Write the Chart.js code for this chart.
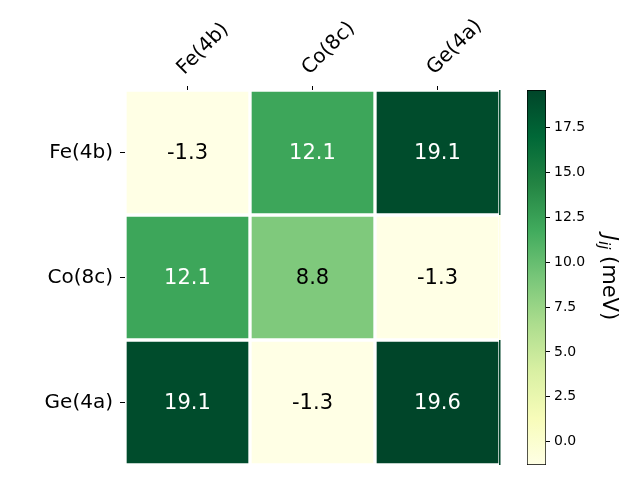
<!DOCTYPE html>
<html>
<head>
<meta charset="utf-8">
<script src="https://cdn.jsdelivr.net/npm/chart.js@4"></script>
<style>
  body { margin: 0; background: #fff; }
  canvas { position: absolute; left: 0; top: 0; }
</style>
</head>
<body>
<canvas id="heat" width="640" height="480"></canvas>
<canvas id="cbar" width="640" height="480"></canvas>
<script>
const rowLabels = ['Fe(4b)', 'Co(8c)', 'Ge(4a)'];
const colLabels = ['Fe(4b)', 'Co(8c)', 'Ge(4a)'];
const jValues = [
  [-1.3, 12.1, 19.1],
  [12.1, 8.8, -1.3],
  [19.1, -1.3, 19.6]
];
const cbarTicks = [0, 2.5, 5, 7.5, 10, 12.5, 15, 17.5];
const vmin = -1.3;
const vmax = 19.6;
// YlGn
const ylgn = ['#ffffe5', '#f7fcb9', '#d9f0a3', '#addd8e', '#78c679', '#41ab5d', '#238443', '#006837', '#004529'];

const FONT = "'DejaVu Sans', sans-serif";

function hex2rgb(h) {
  return [parseInt(h.slice(1, 3), 16), parseInt(h.slice(3, 5), 16), parseInt(h.slice(5, 7), 16)];
}
function cmap(v) {
  let t = (v - vmin) / (vmax - vmin);
  t = Math.max(0, Math.min(1, t));
  const p = t * (ylgn.length - 1);
  const i = Math.min(Math.floor(p), ylgn.length - 2);
  const f = p - i;
  const a = hex2rgb(ylgn[i]), b = hex2rgb(ylgn[i + 1]);
  const c = a.map((x, k) => Math.round(x + (b[k] - x) * f));
  return 'rgb(' + c.join(',') + ')';
}

// draws the numbers inside the cells + the thin edge line on the right
const cellText = {
  id: 'cellText',
  afterDatasetsDraw(chart) {
    const ctx = chart.ctx;
    const area = chart.chartArea;
    ctx.save();
    ctx.font = '21px ' + FONT;
    ctx.textAlign = 'center';
    ctx.textBaseline = 'middle';
    chart.data.datasets.forEach((ds, i) => {
      const bars = chart.getDatasetMeta(i).data;
      bars.forEach((bar, j) => {
        const v = ds.values[j];
        const t = (v - vmin) / (vmax - vmin);
        ctx.fillStyle = t > 0.6 ? '#fff' : '#000';
        ctx.fillText(v.toFixed(1), bar.x, (bar.y + bar.base) / 2 + 1);
      });
      const last = bars[bars.length - 1];
      ctx.fillStyle = ds.backgroundColor[bars.length - 1];
      ctx.fillRect(area.right - 1, Math.min(last.y, last.base), 1.5, Math.abs(last.base - last.y));
    });
    ctx.restore();
  }
};

new Chart(document.getElementById('heat'), {
  type: 'bar',
  data: {
    labels: colLabels,
    datasets: rowLabels.map((r, i) => ({
      label: r,
      data: colLabels.map(() => 1),
      values: jValues[i],
      backgroundColor: jValues[i].map(cmap),
      borderColor: '#fff',
      borderWidth: 2,
      borderSkipped: false,
      barPercentage: 1,
      categoryPercentage: 1
    }))
  },
  options: {
    responsive: false,
    animation: false,
    layout: { padding: { left: 0, top: 0, right: 140, bottom: 15 } },
    plugins: { legend: { display: false }, tooltip: { enabled: false } },
    scales: {
      x: {
        position: 'top',
        stacked: true,
        border: { display: false },
        grid: { offset: false, drawOnChartArea: false, tickLength: 4, color: '#000' },
        ticks: { minRotation: 45, maxRotation: 45, padding: 6, labelOffset: 10, color: '#000', font: { family: FONT, size: 20 } },
        afterFit(s) { s.height = 90; s.paddingLeft = 0; s.paddingRight = 0; }
      },
      y: {
        type: 'linear',
        stacked: true,
        min: 0,
        max: 3,
        reverse: true,
        border: { display: false },
        grid: { drawOnChartArea: false, tickLength: 5, color: '#000' },
        afterBuildTicks(s) { s.ticks = rowLabels.map((r, i) => ({ value: i + 0.5 })); },
        ticks: { padding: 7, color: '#000', font: { family: FONT, size: 20 }, callback: (v, i) => rowLabels[i] },
        afterFit(s) { s.width = 125; s.paddingTop = 0; s.paddingBottom = 0; }
      }
    }
  },
  plugins: [cellText]
});

// colorbar title J_ij (meV), rotated
const cbarTitle = {
  id: 'cbarTitle',
  afterDraw(chart) {
    const ctx = chart.ctx;
    const area = chart.chartArea;
    const x = area.right + 62;
    const y = (area.top + area.bottom) / 2;
    ctx.save();
    ctx.translate(x, y);
    ctx.rotate(Math.PI / 2);
    ctx.fillStyle = '#000';
    ctx.textBaseline = 'middle';
    const f1 = 'italic 21px ' + FONT, f2 = 'italic 15px ' + FONT, f3 = '21px ' + FONT;
    ctx.font = f1; const w1 = ctx.measureText('J').width;
    ctx.font = f2; const w2 = ctx.measureText('ij').width;
    ctx.font = f3; const w3 = ctx.measureText(' (meV)').width;
    let px = -(w1 + w2 + w3) / 2;
    ctx.font = f1; ctx.fillText('J', px, 0); px += w1;
    ctx.font = f2; ctx.fillText('ij', px, 5); px += w2;
    ctx.font = f3; ctx.fillText(' (meV)', px, 0);
    ctx.restore();
  }
};

new Chart(document.getElementById('cbar'), {
  type: 'bar',
  data: {
    labels: [''],
    datasets: [{
      data: [[vmin, vmax]],
      backgroundColor(c) {
        const chart = c.chart;
        if (!chart.chartArea) return ylgn[0];
        const y = chart.scales.y;
        const g = chart.ctx.createLinearGradient(0, y.getPixelForValue(vmin), 0, y.getPixelForValue(vmax));
        ylgn.forEach((col, i) => g.addColorStop(i / (ylgn.length - 1), col));
        return g;
      },
      borderColor: '#000',
      borderWidth: 1,
      borderSkipped: false,
      barPercentage: 1,
      categoryPercentage: 1
    }]
  },
  options: {
    responsive: false,
    animation: false,
    layout: { padding: { left: 527, top: 90, right: 0, bottom: 15 } },
    plugins: { legend: { display: false }, tooltip: { enabled: false } },
    scales: {
      x: { display: false },
      y: {
        position: 'right',
        min: vmin,
        max: vmax,
        border: { display: false },
        grid: { drawOnChartArea: false, tickLength: 4, color: '#000' },
        afterBuildTicks(s) { s.ticks = cbarTicks.map(v => ({ value: v })); },
        ticks: { padding: 4, color: '#000', font: { family: FONT, size: 14 }, callback: v => v.toFixed(1) },
        afterFit(s) { s.width = 94; s.paddingTop = 0; s.paddingBottom = 0; }
      }
    }
  },
  plugins: [cbarTitle]
});
</script>
</body>
</html>
